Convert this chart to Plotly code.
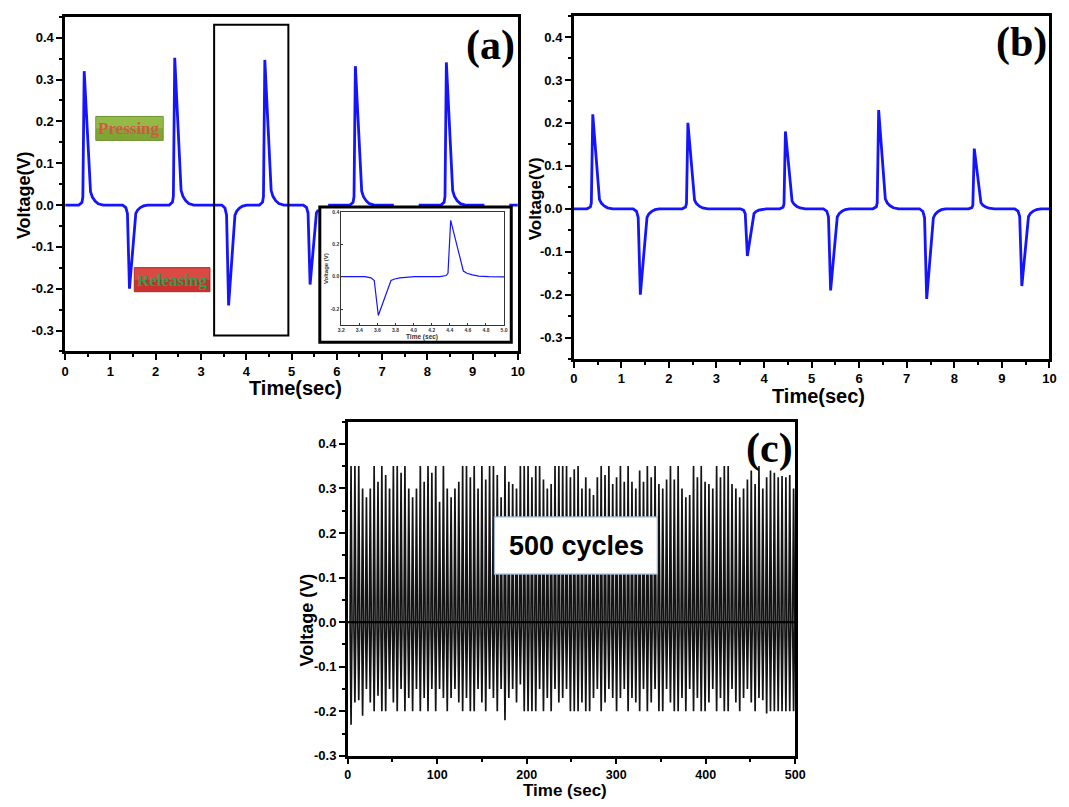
import plotly.graph_objects as go

W, H = 1069, 807


def px(x):
    return x / W


def py(y):
    return 1 - y / H


# ---------------- data ----------------
# panel (a): pressing (positive) and releasing (negative) peaks
A_PRESS_T = [0.42, 2.42, 4.41, 6.41, 8.42]
A_PRESS_V = [0.32, 0.352, 0.347, 0.332, 0.341]
A_RELEASE_T = [1.42, 3.61, 5.41, 7.41, 9.41]
A_RELEASE_V = [-0.20, -0.24, -0.19, -0.20, -0.20]

# panel (b)
B_PRESS_T = [0.40, 2.40, 4.45, 6.41, 8.42]
B_PRESS_V = [0.22, 0.20, 0.18, 0.23, 0.14]
B_RELEASE_T = [1.40, 3.65, 5.40, 7.42, 9.42]
B_RELEASE_V = [-0.20, -0.11, -0.19, -0.21, -0.18]

# pulse profile: time offset from the peak and fraction of peak height
POS_DT = [-0.12, -0.05, -0.03, 0.0, 0.14, 0.18, 0.24, 0.31, 0.42]
POS_FR = [0.0, 0.02, 0.06, 1.0, 0.10, 0.06, 0.03, 0.01, 0.0]
NEG_DT = [-0.15, -0.08, -0.045, 0.0, 0.14, 0.18, 0.24, 0.31, 0.40]
NEG_FR = [0.0, 0.03, 0.10, 1.0, 0.10, 0.06, 0.03, 0.01, 0.0]

# panel (c): 500 s of cycling, peak voltages of each cycle
C_T0 = 3.7
C_PERIOD = 4.3
C_TOP = [
    0.35, 0.35, 0.35, 0.30, 0.28, 0.30, 0.35, 0.315, 0.35, 0.33,
    0.30, 0.35, 0.35, 0.335, 0.35, 0.30, 0.28, 0.30, 0.35, 0.315,
    0.35, 0.335, 0.35, 0.27, 0.35, 0.30, 0.28, 0.30, 0.315, 0.35,
    0.35, 0.325, 0.35, 0.30, 0.35, 0.32, 0.35, 0.35, 0.33, 0.28,
    0.35, 0.315, 0.31, 0.30, 0.35, 0.35, 0.35, 0.325, 0.35, 0.35,
    0.32, 0.30, 0.31, 0.35, 0.35, 0.35, 0.35, 0.325, 0.343, 0.35,
    0.30, 0.325, 0.30, 0.285, 0.325, 0.35, 0.33, 0.35, 0.31, 0.325,
    0.35, 0.315, 0.35, 0.315, 0.30, 0.34, 0.315, 0.35, 0.325, 0.35,
    0.31, 0.30, 0.32, 0.35, 0.32, 0.35, 0.30, 0.28, 0.285, 0.35,
    0.325, 0.35, 0.315, 0.31, 0.30, 0.35, 0.325, 0.35, 0.35, 0.31,
    0.30, 0.28, 0.30, 0.32, 0.34, 0.31, 0.35, 0.30, 0.325, 0.34,
    0.335, 0.325, 0.328, 0.325, 0.33, 0.30,
]
C_BOTTOM = [
    -0.23, -0.18, -0.175, -0.21, -0.15, -0.18, -0.20, -0.165, -0.20, -0.20,
    -0.15, -0.18, -0.20, -0.15, -0.20, -0.17, -0.20, -0.15, -0.20, -0.17,
    -0.20, -0.15, -0.20, -0.15, -0.17, -0.20, -0.17, -0.15, -0.18, -0.20,
    -0.17, -0.20, -0.20, -0.15, -0.18, -0.20, -0.15, -0.17, -0.20, -0.15,
    -0.22, -0.17, -0.15, -0.18, -0.14, -0.20, -0.20, -0.20, -0.20, -0.15,
    -0.20, -0.17, -0.20, -0.15, -0.18, -0.17, -0.15, -0.20, -0.20, -0.20,
    -0.18, -0.20, -0.20, -0.17, -0.15, -0.20, -0.18, -0.15, -0.17, -0.20,
    -0.17, -0.15, -0.20, -0.17, -0.18, -0.20, -0.15, -0.20, -0.18, -0.15,
    -0.20, -0.20, -0.15, -0.18, -0.20, -0.20, -0.17, -0.20, -0.15, -0.20,
    -0.17, -0.20, -0.20, -0.18, -0.15, -0.20, -0.17, -0.20, -0.20, -0.15,
    -0.18, -0.20, -0.17, -0.15, -0.18, -0.20, -0.17, -0.175, -0.205, -0.20,
    -0.20, -0.20, -0.20, -0.20, -0.20, -0.20,
]
C_HALF_WIDTH = 1.1

# tick labels
AB_XTICKS = [0, 1, 2, 3, 4, 5, 6, 7, 8, 9, 10]
AB_XTEXT = ["0", "1", "2", "3", "4", "5", "6", "7", "8", "9", "10"]
Y_TICKS = [-0.3, -0.2, -0.1, 0.0, 0.1, 0.2, 0.3, 0.4]
Y_TEXT = ["-0.3", "-0.2", "-0.1", "0.0", "0.1", "0.2", "0.3", "0.4"]
C_XTICKS = [0, 100, 200, 300, 400, 500]
C_XTEXT = ["0", "100", "200", "300", "400", "500"]
IN_XTICKS = [3.2, 3.4, 3.6, 3.8, 4.0, 4.2, 4.4, 4.6, 4.8, 5.0]
IN_XTEXT = ["3.2", "3.4", "3.6", "3.8", "4.0", "4.2", "4.4", "4.6", "4.8", "5.0"]
IN_YTICKS = [-0.2, 0.0, 0.2, 0.4]
IN_YTEXT = ["-0.2", "0.0", "0.2", "0.4"]

AB_XRANGE = [0, 10]
AB_YRANGE = [-0.35, 0.45]
C_XRANGE = [0, 500]
C_YRANGE = [-0.3, 0.45]
IN_XRANGE = [3.2, 5.0]
IN_YRANGE = [-0.3, 0.4]

# layout boxes in page pixels (left, top, right, bottom)
A_BOX = (62, 14, 520.7, 353.3)
B_BOX = (577.3, 12.7, 1059.3, 361)
C_BOX = (348.3, 424.3, 801.7, 763.3)
INSET_FRAME = (320, 206.7, 514, 344)
INSET_BOX = (341.7, 211.7, 506.7, 326.7)


def waveform(press_t, press_v, rel_t, rel_v, t_end):
    events = sorted(list(zip(press_t, press_v)) + list(zip(rel_t, rel_v)))
    xs, ys = [0.0], [0.0]
    for t, v in events:
        dts, frs = (POS_DT, POS_FR) if v > 0 else (NEG_DT, NEG_FR)
        for dt, fr in zip(dts, frs):
            xs.append(t + dt)
            ys.append(v * fr)
    xs.append(t_end)
    ys.append(0.0)
    return xs, ys


ax, ay = waveform(A_PRESS_T, A_PRESS_V, A_RELEASE_T, A_RELEASE_V, AB_XRANGE[1])
bx, by = waveform(B_PRESS_T, B_PRESS_V, B_RELEASE_T, B_RELEASE_V, AB_XRANGE[1])

# hide the part of panel (a) that lies behind the inset frame
_sx = (AB_XRANGE[1] - AB_XRANGE[0]) / (A_BOX[2] - A_BOX[0])
hide_x0 = AB_XRANGE[0] + (INSET_FRAME[0] - A_BOX[0]) * _sx
hide_x1 = AB_XRANGE[0] + (INSET_FRAME[2] - A_BOX[0]) * _sx
ay_main = [None if (hide_x0 <= x <= hide_x1 and y < 0) else y for x, y in zip(ax, ay)]

cx, cy = [C_XRANGE[0]], [0.0]
for i, (top, bot) in enumerate(zip(C_TOP, C_BOTTOM)):
    t = C_T0 + i * C_PERIOD
    w = C_HALF_WIDTH
    cx += [t - w, t, t + w, t, t - w]
    cy += [0.0, top, 0.0, bot, 0.0]
cx.append(C_XRANGE[1])
cy.append(0.0)

BLUE = "#1414ff"
SANS = "Liberation Sans, Arial, sans-serif"
SERIF = "Liberation Serif, Times New Roman, serif"

fig = go.Figure()
fig.add_trace(go.Scatter(x=ax, y=ay_main, mode="lines", line=dict(color=BLUE, width=2.8),
                         connectgaps=False, xaxis="x", yaxis="y", showlegend=False))
fig.add_trace(go.Scatter(x=bx, y=by, mode="lines", line=dict(color=BLUE, width=2.8),
                         xaxis="x2", yaxis="y2", showlegend=False))
fig.add_trace(go.Scatter(x=cx, y=cy, mode="lines", line=dict(color="#141414", width=1.7),
                         xaxis="x3", yaxis="y3", showlegend=False))
fig.add_trace(go.Scatter(x=ax, y=ay, mode="lines", line=dict(color=BLUE, width=1.2),
                         xaxis="x4", yaxis="y4", showlegend=False))


def axis(domain, rng, tickvals, ticktext, minor_dtick, anchor, size=13, ticklen=6):
    return dict(
        domain=domain, range=rng, anchor=anchor,
        tickmode="array", tickvals=tickvals, ticktext=ticktext,
        showline=True, linecolor="black", linewidth=2.5, mirror=True,
        ticks="outside", ticklen=ticklen, tickwidth=2, tickcolor="black",
        minor=dict(tickmode="linear", tick0=0, dtick=minor_dtick, ticks="outside",
                   ticklen=3, tickwidth=2, tickcolor="black", showgrid=False),
        showgrid=False, zeroline=False,
        tickfont=dict(family=SANS, size=size, color="black", weight="bold"),
    )


def inset_axis(domain, rng, tickvals, ticktext, anchor):
    return dict(
        domain=domain, range=rng, anchor=anchor,
        tickmode="array", tickvals=tickvals, ticktext=ticktext,
        showline=True, linecolor="#333333", linewidth=1, mirror=True,
        ticks="inside", ticklen=2, tickwidth=0.7, tickcolor="#333333",
        showgrid=False, zeroline=False,
        tickfont=dict(family=SANS, size=5, color="#333333", weight="bold"),
    )


def xdom(box):
    return [px(box[0]), px(box[2])]


def ydom(box):
    return [py(box[3]), py(box[1])]


fig.update_layout(
    width=W, height=H, margin=dict(l=0, r=0, t=0, b=0),
    paper_bgcolor="white", plot_bgcolor="rgba(0,0,0,0)", showlegend=False,
    xaxis=axis(xdom(A_BOX), AB_XRANGE, AB_XTICKS, AB_XTEXT, 0.5, "y"),
    yaxis=axis(ydom(A_BOX), AB_YRANGE, Y_TICKS, Y_TEXT, 0.05, "x"),
    xaxis2=axis(xdom(B_BOX), AB_XRANGE, AB_XTICKS, AB_XTEXT, 0.5, "y2"),
    yaxis2=axis(ydom(B_BOX), AB_YRANGE, Y_TICKS, Y_TEXT, 0.05, "x2"),
    xaxis3=axis(xdom(C_BOX), C_XRANGE, C_XTICKS, C_XTEXT, 50, "y3", size=12.5, ticklen=5),
    yaxis3=axis(ydom(C_BOX), C_YRANGE, Y_TICKS, Y_TEXT, 0.05, "x3"),
    xaxis4=inset_axis(xdom(INSET_BOX), IN_XRANGE, IN_XTICKS, IN_XTEXT, "y4"),
    yaxis4=inset_axis(ydom(INSET_BOX), IN_YRANGE, IN_YTICKS, IN_YTEXT, "x4"),
)

shapes = [
    # inset frame
    dict(type="rect", xref="paper", yref="paper",
         x0=px(INSET_FRAME[0]), x1=px(INSET_FRAME[2]), y0=py(INSET_FRAME[3]), y1=py(INSET_FRAME[1]),
         line=dict(color="black", width=3), layer="above"),
    # highlighted window in panel (a)
    dict(type="rect", xref="x", yref="y", x0=3.29, x1=4.93, y0=-0.312, y1=0.431,
         line=dict(color="black", width=2), layer="above"),
    # zero line in panel (c)
    dict(type="line", xref="x3", yref="y3", x0=C_XRANGE[0], x1=C_XRANGE[1], y0=0, y1=0,
         line=dict(color="black", width=2), layer="above"),
    # 500 cycles box
    dict(type="rect", xref="paper", yref="paper", x0=px(497), x1=px(662), y0=py(579), y1=py(521),
         fillcolor="white", line=dict(color="#9fb3d1", width=1.2), layer="above"),
    # Pressing / Releasing label boxes (two-tone to mimic the gradient)
    dict(type="rect", xref="paper", yref="paper", x0=px(93), x1=px(161.3), y0=py(139.3), y1=py(115),
         fillcolor="#7fa635", line=dict(color="#6f9230", width=1), layer="above"),
    dict(type="rect", xref="paper", yref="paper", x0=px(93.5), x1=px(160.8), y0=py(127), y1=py(115.5),
         fillcolor="#93b948", line=dict(width=0), layer="above"),
    dict(type="rect", xref="paper", yref="paper", x0=px(132), x1=px(208.7), y0=py(292.7), y1=py(268.3),
         fillcolor="#c9322e", line=dict(color="#b02a27", width=1), layer="above"),
    dict(type="rect", xref="paper", yref="paper", x0=px(132.5), x1=px(208.2), y0=py(280.5), y1=py(268.8),
         fillcolor="#d94a44", line=dict(width=0), layer="above"),
]
fig.update_layout(shapes=shapes)


def ann(text, x, y, size, family=SANS, angle=0, color="black", weight="bold"):
    return dict(text=text, x=px(x), y=py(y), xref="paper", yref="paper",
                showarrow=False, xanchor="center", yanchor="middle", textangle=angle,
                font=dict(family=family, size=size, color=color, weight=weight))


annotations = [
    ann("Voltage(V)", 21, 195, 18, angle=-90),
    ann("Time(sec)", 295, 390, 20),
    ann("Voltage(V)", 538, 198, 17, angle=-90),
    ann("Time(sec)", 825, 398, 20),
    ann("Voltage (V)", 308, 625, 18, angle=-90),
    ann("Time (sec)", 568, 798.5, 17),
    ann("(a)", 493, 43, 42, family=SERIF),
    ann("(b)", 1031, 40, 42, family=SERIF),
    ann("(c)", 776, 452, 42, family=SERIF),
    ann("500 cycles", 580, 550, 27),
    ann("Pressing", 127, 127.5, 17, family=SERIF, color="#d4574a"),
    ann("Releasing", 170.5, 281, 17, family=SERIF, color="#2f9f4e"),
    # inset axis titles
    ann("Time (sec)", 424, 338.5, 6.5, color="#333333"),
    ann("Voltage (V)", 327, 269, 6, angle=-90, color="#333333"),
]
fig.update_layout(annotations=annotations)

fig.write_html(
    "out.html",
    config={"displayModeBar": False},
    post_script="document.body.style.margin='0';document.body.style.overflow='hidden';",
)
